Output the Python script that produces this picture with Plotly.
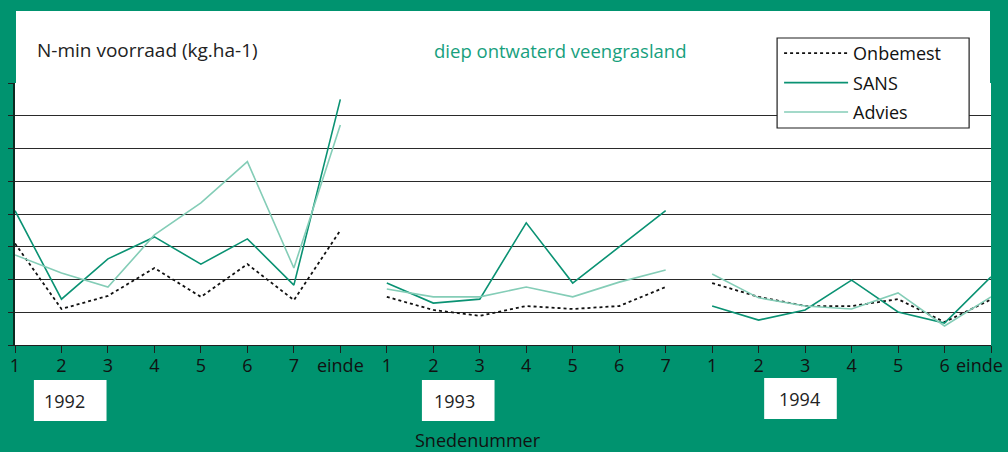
import plotly.graph_objects as go

# ---- data (N-min voorraad, kg/ha) ----
labels_1992 = ["1", "2", "3", "4", "5", "6", "7", "einde"]
labels_1993 = ["1", "2", "3", "4", "5", "6", "7"]
labels_1994 = ["1", "2", "3", "4", "5", "6", "einde"]

onbemest_1992 = [31, 11, 15, 23.5, 14.7, 24.7, 13.7, 35]
onbemest_1993 = [14.7, 10.7, 8.9, 11.9, 11.0, 11.9, 17.7]
onbemest_1994 = [18.9, 14.7, 11.9, 11.9, 14.0, 7.0, 13.9]

sans_1992 = [41, 14, 26.3, 33, 24.7, 32.4, 18.3, 75]
sans_1993 = [18.9, 12.8, 14.0, 37.3, 18.9, 29.9, 41]
sans_1994 = [11.9, 7.6, 10.7, 19.8, 10.1, 6.7, 20.8]

advies_1992 = [27.5, 22, 17.7, 33.6, 43.4, 56, 23.5, 67.2]
advies_1993 = [17.1, 14.7, 14.7, 17.7, 14.7, 19.2, 22.9]
advies_1994 = [21.7, 14.4, 11.9, 11.0, 15.9, 5.8, 14.7]

years = ["1992", "1993", "1994"]
y_ticks = [0, 10, 20, 30, 40, 50, 60, 70, 80]

# ---- layout helpers ----
W, H = 1008, 452
L, R, T, B = 10, 991, 83, 345  # plot area in pixels
GREEN = "#00936F"
DARK = "#1f1f1f"


def px(x):
    return (x - L) / (R - L)


def py(y):
    return (B - y) / (B - T)


all_labels = [labels_1992, labels_1993, labels_1994]
positions = []
start = 0
for labs in all_labels:
    positions.append(list(range(start, start + len(labs))))
    start += len(labs)
tick_pos = [p for ps in positions for p in ps]
tick_txt = [t for labs in all_labels for t in labs]
tick_txt_axis = tick_txt[:-1] + [""]


def join(blocks):
    xs, ys = [], []
    for pos, vals in zip(positions, blocks):
        xs += pos + [None]
        ys += vals + [None]
    return xs, ys


series = [
    ("Onbemest", [onbemest_1992, onbemest_1993, onbemest_1994], dict(color="#111111", width=1.8, dash="dot")),
    ("SANS", [sans_1992, sans_1993, sans_1994], dict(color="#0A9273", width=1.6)),
    ("Advies", [advies_1992, advies_1993, advies_1994], dict(color="#84CDB7", width=1.6)),
]

fig = go.Figure()
for name, blocks, line in series:
    xs, ys = join(blocks)
    fig.add_trace(go.Scatter(x=xs, y=ys, mode="lines", name=name, line=line,
                             connectgaps=False, legendgroup=name, hoverinfo="skip"))

FONT = "Open Sans"
shapes = [
    # white panel above plot area
    dict(type="rect", xref="paper", yref="paper", x0=px(11), x1=px(990), y0=py(84), y1=py(11),
         fillcolor="white", line=dict(width=0), layer="below"),
    # legend box
    dict(type="rect", xref="paper", yref="paper", x0=px(776), x1=px(969), y0=py(128), y1=py(38),
         fillcolor="white", line=dict(color=DARK, width=1.2), layer="above"),
]
annotations = [
    dict(text="N-min voorraad (kg.ha-1)", x=px(30), y=py(50), xref="paper", yref="paper",
         xanchor="left", yanchor="middle", showarrow=False, font=dict(size=19, color="#222")),
    dict(text="diep ontwaterd veengrasland", x=px(558), y=py(50), xref="paper", yref="paper",
         xanchor="center", yanchor="middle", showarrow=False, font=dict(size=18.5, color="#17a07d")),
    dict(text="Snedenummer", x=px(475), y=py(440), xref="paper", yref="paper",
         xanchor="center", yanchor="middle", showarrow=False, font=dict(size=18, color="#111")),
    dict(text=tick_txt[-1], x=tick_pos[-1], y=py(365), xref="x", yref="paper",
         xanchor="right", yanchor="middle", showarrow=False, xshift=14, font=dict(size=18, color="#111")),
]
year_boxes = [(29, 102, 380, 421, 60), (419, 492, 380, 421, 452), (763, 836, 378, 419, 799)]
for yr, (x0, x1, y0, y1, xc) in zip(years, year_boxes):
    shapes.append(dict(type="rect", xref="paper", yref="paper", x0=px(x0), x1=px(x1),
                       y0=py(y1), y1=py(y0), fillcolor="white", line=dict(width=0)))
    annotations.append(dict(text=yr, x=px(xc), y=py((y0 + y1) / 2), xref="paper", yref="paper",
                            xanchor="center", yanchor="middle", showarrow=False,
                            font=dict(size=18, color="#222")))

fig.update_layout(
    width=W, height=H,
    margin=dict(l=L, r=W - R, t=T, b=H - B, pad=0),
    paper_bgcolor=GREEN, plot_bgcolor="white",
    font=dict(family=FONT, size=18, color="#111"),
    showlegend=True,
    legend=dict(x=px(778), y=py(35), xanchor="left", yanchor="top", bgcolor="rgba(0,0,0,0)",
                borderwidth=0, itemwidth=64, font=dict(size=18, color="#111"),
                tracegroupgap=3, traceorder="grouped", itemclick=False),
    shapes=shapes, annotations=annotations,
    xaxis=dict(range=[tick_pos[0], tick_pos[-1]], tickmode="array", tickvals=tick_pos,
               ticktext=tick_txt_axis, ticks="outside", ticklen=7, tickwidth=1.3, tickcolor=DARK,
               ticklabelstandoff=-3,
               showgrid=False, zeroline=False, showline=True, linecolor=DARK, linewidth=1.3,
               tickfont=dict(size=18, color="#111"), fixedrange=True),
    yaxis=dict(range=[0, 80], tickmode="array", tickvals=y_ticks, ticks="outside", ticklen=5,
               tickwidth=1.3, tickcolor=DARK, showticklabels=False, showgrid=True, gridcolor="#2a2a2a",
               gridwidth=1.3, zeroline=False, showline=True, linecolor="#0c2a20", linewidth=2,
               fixedrange=True),
)

fig.write_html("out.html", config={"displayModeBar": False},
               post_script="document.body.style.margin='0';document.body.style.padding='0';")
